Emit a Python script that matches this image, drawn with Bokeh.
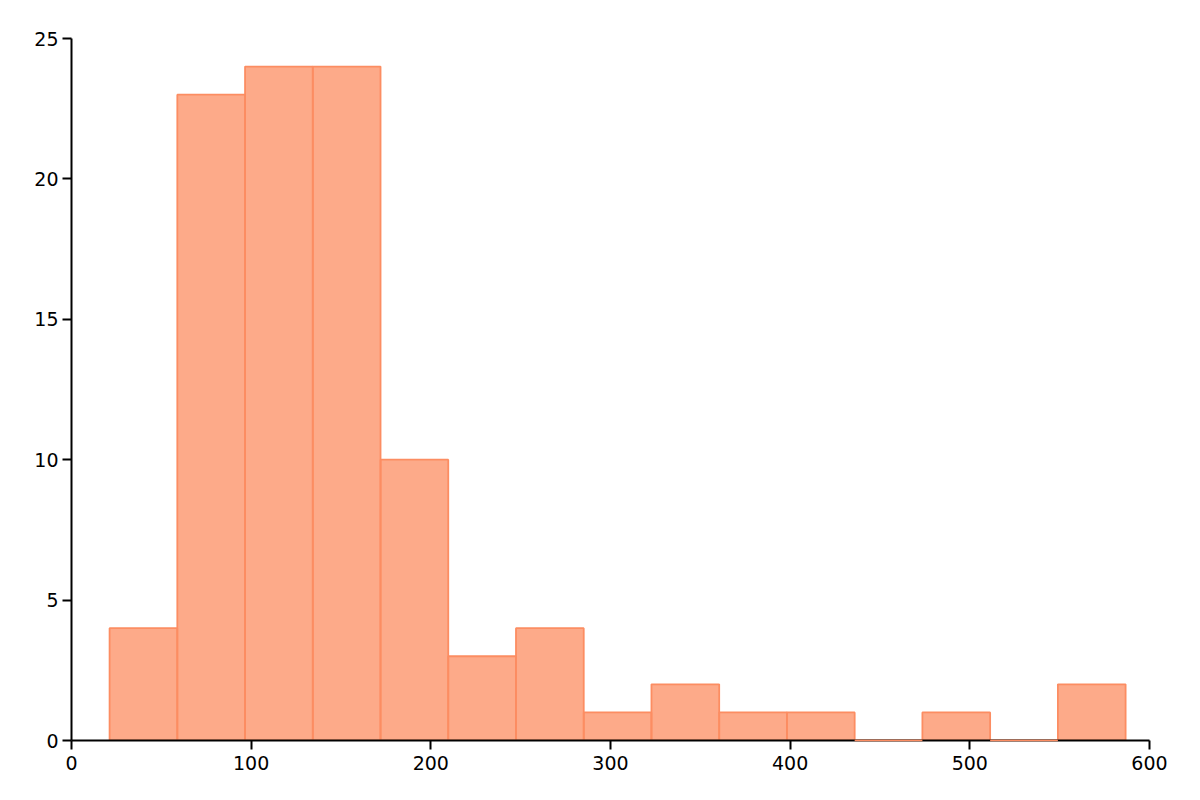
from bokeh.plotting import figure
from bokeh.models import Range1d, FixedTicker
from bokeh.embed import file_html
from bokeh.resources import INLINE

# histogram data
bin_edges = [21.2, 58.9, 96.6, 134.3, 172.0, 209.7, 247.4, 285.1, 322.8,
             360.5, 398.2, 435.9, 473.6, 511.3, 549.0, 586.7]
counts = [4, 23, 24, 24, 10, 3, 4, 1, 2, 1, 1, 0, 1, 0, 2]
x_ticks = [0, 100, 200, 300, 400, 500, 600]
y_ticks = [0, 5, 10, 15, 20, 25]

lefts = bin_edges[:-1]
rights = bin_edges[1:]
bottoms = [0] * len(counts)

p = figure(width=1184, height=784, output_backend="svg", toolbar_location=None,
           x_range=Range1d(0, 600), y_range=Range1d(0, 25),
           min_border_left=71, min_border_right=35, min_border_top=38,
           min_border_bottom=44)
p.outline_line_color = None
p.xgrid.visible = False
p.ygrid.visible = False
p.background_fill_color = "white"
p.border_fill_color = "white"

p.quad(left=lefts, right=rights, bottom=bottoms, top=counts,
       fill_color="#fc8d62", fill_alpha=0.75,
       line_color="#fc8d62", line_width=1.8)

# empty bins are drawn as flat outlines on the baseline
zl = [l for l, c in zip(lefts, counts) if c == 0]
zr = [r for r, c in zip(rights, counts) if c == 0]
zc = [c for c in counts if c == 0]
p.segment(x0=zl, x1=zr, y0=zc, y1=zc, line_color="#fc8d62", line_width=1.5,
          level="overlay")

for ax, ticks in ((p.xaxis, x_ticks), (p.yaxis, y_ticks)):
    ax.ticker = FixedTicker(ticks=ticks)
    ax.minor_tick_line_color = None
    ax.major_tick_in = 0
    ax.major_tick_out = 9
    ax.axis_line_width = 2
    ax.major_tick_line_width = 2
    ax.axis_line_color = "black"
    ax.major_tick_line_color = "black"
    ax.major_label_text_font = "DejaVu Sans"
    ax.major_label_text_font_size = "19px"
    ax.major_label_text_color = "black"
p.xaxis.major_label_standoff = 6
p.yaxis.major_label_standoff = 4

open("out.html", "w").write(file_html(p, INLINE))
